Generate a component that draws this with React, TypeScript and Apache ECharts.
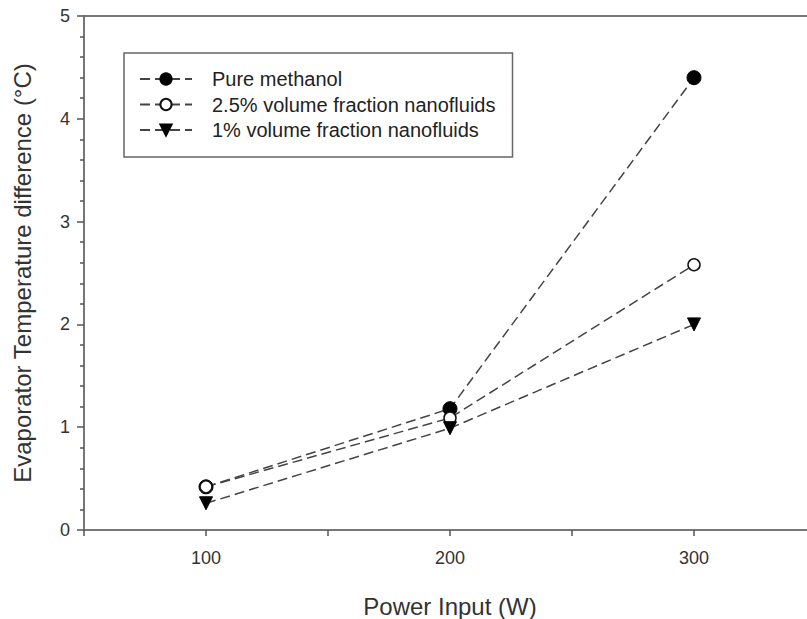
import React, { useEffect, useRef } from "react";
import * as echarts from "echarts";

const powerInput = [100, 200, 300];
const pureMethanol = [0.42, 1.18, 4.4];
const vol25 = [0.42, 1.09, 2.58];
const vol1 = [0.26, 0.99, 2.0];
const seriesNames = [
  "Pure methanol",
  "2.5% volume fraction nanofluids",
  "1% volume fraction nanofluids",
];

const toPairs = (ys: number[]) => powerInput.map((x, i) => [x, ys[i]]);

export default function App() {
  const ref = useRef<HTMLDivElement>(null);
  useEffect(() => {
    if (!ref.current) return;
    const chart = echarts.init(ref.current, undefined, { renderer: "svg" });
    const font = "Liberation Sans, Arial, sans-serif";
    const lineStyle = { color: "#444", width: 1.5, type: [10, 5] as any };
    chart.setOption({
      animation: false,
      backgroundColor: "#fff",
      grid: {
        left: 84,
        top: 16,
        width: 732,
        bottom: 89,
        outerBoundsMode: "none",
        containLabel: false,
        show: true,
        borderColor: "#777",
        borderWidth: 2,
      },
      legend: {
        orient: "vertical",
        left: 124,
        top: 53,
        padding: [16, 17, 17, 15],
        borderColor: "#666",
        borderWidth: 1.5,
        itemWidth: 52,
        itemHeight: 14,
        itemGap: 5.5,
        textStyle: {
          fontFamily: font,
          fontSize: 20,
          lineHeight: 20,
          color: "#222",
          padding: [0, 0, 0, 15],
        },
        data: seriesNames,
      },
      xAxis: {
        type: "value",
        min: 50,
        max: 350,
        interval: 50,
        name: "Power Input (W)",
        nameLocation: "middle",
        nameGap: 64,
        nameTextStyle: { fontFamily: font, fontSize: 24, color: "#333" },
        axisLine: { show: true, lineStyle: { color: "#777", width: 2 } },
        axisTick: { show: true, inside: false, length: 6, lineStyle: { color: "#555", width: 1.5 } },
        axisLabel: {
          fontFamily: font,
          fontSize: 18,
          color: "#333",
          margin: 19,
          formatter: (v: number) => (v % 100 === 0 && v > 50 && v < 350 ? String(v) : ""),
        },
        splitLine: { show: false },
      },
      yAxis: {
        type: "value",
        min: 0,
        max: 5,
        interval: 1,
        name: "Evaporator Temperature difference (°C)",
        nameLocation: "middle",
        nameGap: 50,
        nameTextStyle: { fontFamily: font, fontSize: 24, color: "#333" },
        axisLine: { show: true, lineStyle: { color: "#777", width: 2 } },
        axisTick: { show: true, inside: false, length: 7, lineStyle: { color: "#555", width: 1.5 } },
        minorTick: { show: true, splitNumber: 5, length: 4, lineStyle: { color: "#555", width: 1.5 } },
        axisLabel: { fontFamily: font, fontSize: 18, color: "#333", margin: 14 },
        splitLine: { show: false },
      },
      series: [
        {
          name: seriesNames[0],
          type: "line",
          data: toPairs(pureMethanol),
          symbol: "circle",
          symbolSize: 14,
          itemStyle: { color: "#000", borderColor: "#000", borderWidth: 1 },
          lineStyle,
        },
        {
          name: seriesNames[1],
          type: "line",
          data: toPairs(vol25),
          symbol: "circle",
          symbolSize: 12,
          itemStyle: { color: "#fff", borderColor: "#111", borderWidth: 1.5 },
          lineStyle,
        },
        {
          name: seriesNames[2],
          type: "line",
          data: toPairs(vol1),
          symbol: "triangle",
          symbolRotate: 180,
          symbolSize: 13,
          itemStyle: { color: "#000", borderColor: "#000", borderWidth: 1 },
          lineStyle,
        },
      ],
    });
    return () => chart.dispose();
  }, []);
  return <div ref={ref} style={{ width: 807, height: 619, position: "absolute", left: 0, top: 0 }} />;
}
